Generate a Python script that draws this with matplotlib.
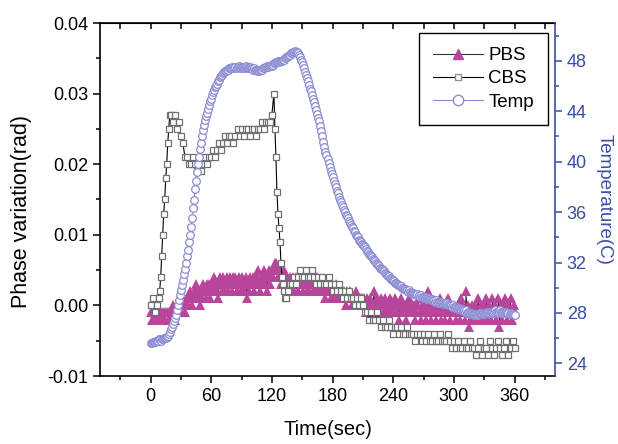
import matplotlib
matplotlib.use("Agg")
import matplotlib.pyplot as plt
import numpy as np
from matplotlib.lines import Line2D
from matplotlib.ticker import MultipleLocator, FormatStrFormatter

plt.rcParams['font.family'] = ['Liberation Sans', 'DejaVu Sans']
plt.rcParams['font.size'] = 13

# PBS phase variation, 1 s sampling, in mrad
time_pbs = np.arange(0, 361, 1)
pbs_mrad = [
    -1, -2, -1, -2, -1, -2, -2, -1, -2, -1,
    -2, -1, -2, -1, -2, -1, -1, -2, -1, -2,
    -1, -1, 0, -1, -2, -1, 0, -1, -1, 0,
    -1, 0, 1, 0, -1, 0, 1, 0, 1, 2,
    1, 0, 1, 2, 1, 3, 2, 1, 2, 0,
    2, 1, 3, 2, 2, 1, 3, 2, 3, 1,
    2, 3, 2, 4, 3, 2, 3, 1, 3, 4,
    3, 2, 4, 3, 2, 3, 4, 2, 3, 4,
    3, 2, 4, 3, 4, 2, 3, 4, 3, 2,
    4, 3, 2, 3, 4, 1, 3, 2, 4, 3,
    3, 4, 2, 3, 4, 3, 5, 3, 2, 4,
    3, 4, 5, 3, 4, 2, 4, 5, 3, 4,
    5, 4, 5, 6, 6, 5, 4, 5, 4, 3,
    4, 3, 5, 4, 3, 4, 3, 2, 4, 3,
    3, 4, 2, 3, 4, 3, 2, 3, 4, 3,
    3, 2, 3, 4, 3, 2, 3, 2, 3, 4,
    3, 2, 3, 2, 3, 4, 2, 3, 2, 3,
    2, 3, 2, 1, 3, 2, 2, 3, 1, 2,
    2, 1, 2, 3, 1, 2, 1, 2, 1, 2,
    1, 2, 1, 0, 2, 1, 1, 2, 1, 0,
    1, 0, 1, 2, 0, 1, 0, 1, 0, 1,
    0, 1, 0, -1, 1, 0, 0, 1, 0, -1,
    0, 2, 0, -1, 1, 0, -1, 0, 1, 0,
    -1, 0, 1, -1, 0, -1, 0, 1, -1, 0,
    0, -1, 1, 0, -1, 0, -2, 0, 1, -1,
    0, -1, 0, -2, -1, 0, 1, -1, 0, -1,
    -1, 0, -2, -1, 0, 1, -1, -2, 0, -1,
    0, -1, -2, -1, 2, 0, -1, -2, 0, -1,
    -1, 0, -2, -1, 0, -1, 1, -2, -1, 0,
    -1, -2, 0, -1, 1, -1, -2, 0, -1, -1,
    0, -1, -2, -1, 0, -1, -2, 1, -1, 0,
    -1, -2, 2, -1, 0, -3, -1, -2, 0, -1,
    -1, 0, -2, -1, 1, -1, -2, 0, -1, -2,
    0, -1, 1, -2, -1, 0, -1, -2, 1, -1,
    -1, 0, -2, -1, 1, -3, -1, 0, -2, -1,
    0, 1, -1, -2, 0, -1, 1, -2, -1, 0,
    -1,
]

# CBS phase variation, 2 s sampling with 1 s on the fast edges, in mrad
time_cbs = np.concatenate([np.arange(0, 8, 2), np.arange(8, 21, 1),
                           np.arange(22, 122, 2), np.arange(122, 134, 1),
                           np.arange(134, 362, 2)])
cbs_mrad = [
    0, 1, -1, 0,
    1, 2, 4, 7, 10, 13, 15, 18, 20, 23, 25, 27, 27,
    26, 27, 25, 26, 24, 23, 21, 21, 20, 20,
    21, 20, 19, 20, 19, 20, 21, 20, 21, 21,
    22, 21, 22, 23, 22, 23, 24, 23, 24, 24,
    23, 24, 25, 24, 25, 24, 25, 25, 24, 25,
    25, 24, 25, 25, 26, 25, 26, 26, 26, 27,
    30, 25, 21, 16, 13, 11, 9, 6, 4, 3, 2, 1,
    1, 2, 3, 3, 4, 3, 4, 5, 4, 4,
    5, 4, 4, 5, 4, 3, 4, 3, 4, 3,
    3, 4, 3, 2, 3, 2, 3, 2, 1, 2,
    1, 2, 1, 1, 0, 1, 0, 1, 0, -1,
    -1, -2, -1, -2, -2, -1, -2, -3, -2, -3,
    -3, -2, -3, -4, -3, -3, -4, -3, -4, -4,
    -3, -4, -4, -4, -5, -4, -4, -5, -4, -5,
    -4, -5, -5, -4, -5, -5, -4, -5, -5, -5,
    -4, -5, -6, -5, -6, -5, -6, -6, -5, -6,
    -6, -5, -6, -6, -7, -6, -5, -7, -6, -6,
    -7, -5, -6, -7, -6, -5, -6, -7, -6, -5,
    -7, -6, -5, -6,
]

# Temperature (C), 1 s sampling
time_temp = np.arange(0, 361, 1)
temp_c = [
    25.6, 25.6, 25.7, 25.7, 25.7, 25.8, 25.8, 25.8, 25.9, 25.9,
    25.8, 25.9, 25.9, 26.0, 26.0, 26.0, 26.1, 26.2, 26.3, 26.5,
    26.7, 26.9, 27.1, 27.4, 27.6, 27.8, 28.2, 28.6, 29.0, 29.4,
    29.8, 30.2, 30.6, 31.1, 31.5, 32.0, 32.5, 33.0, 33.6, 34.2,
    34.8, 35.5, 36.3, 37.0, 37.8, 38.5, 39.2, 39.8, 40.4, 41.0,
    41.5, 42.0, 42.5, 42.9, 43.3, 43.6, 43.9, 44.2, 44.5, 44.8,
    45.0, 45.3, 45.5, 45.7, 45.9, 46.0, 46.2, 46.4, 46.5, 46.7,
    46.8, 46.9, 47.0, 47.1, 47.2, 47.2, 47.3, 47.3, 47.4, 47.4,
    47.4, 47.5, 47.4, 47.5, 47.5, 47.4, 47.5, 47.6, 47.5, 47.4,
    47.5, 47.5, 47.4, 47.5, 47.6, 47.5, 47.4, 47.4, 47.5, 47.4,
    47.4, 47.3, 47.4, 47.3, 47.3, 47.2, 47.3, 47.2, 47.3, 47.3,
    47.3, 47.4, 47.4, 47.5, 47.5, 47.6, 47.5, 47.6, 47.6, 47.7,
    47.6, 47.7, 47.8, 47.8, 47.9, 47.9, 48.0, 47.9, 48.0, 48.0,
    48.0, 48.1, 48.1, 48.2, 48.3, 48.3, 48.4, 48.5, 48.5, 48.6,
    48.6, 48.7, 48.7, 48.8, 48.7, 48.7, 48.6, 48.5, 48.3, 48.1,
    47.9, 47.7, 47.4, 47.1, 46.9, 46.6, 46.4, 46.1, 45.8, 45.6,
    45.3, 45.0, 44.7, 44.4, 44.1, 43.8, 43.5, 43.2, 42.8, 42.4,
    42.0, 41.6, 41.2, 40.8, 40.5, 40.2, 39.9, 39.6, 39.3, 39.0,
    38.8, 38.5, 38.2, 38.0, 37.7, 37.5, 37.2, 37.0, 36.8, 36.6,
    36.4, 36.2, 36.0, 35.8, 35.7, 35.5, 35.3, 35.1, 35.0, 34.8,
    34.7, 34.5, 34.4, 34.2, 34.1, 34.0, 33.8, 33.7, 33.6, 33.5,
    33.4, 33.3, 33.2, 33.1, 32.9, 32.8, 32.7, 32.6, 32.5, 32.4,
    32.3, 32.2, 32.1, 32.0, 31.9, 31.8, 31.7, 31.6, 31.5, 31.5,
    31.4, 31.3, 31.2, 31.1, 31.0, 30.9, 30.9, 30.8, 30.7, 30.6,
    30.6, 30.5, 30.4, 30.4, 30.3, 30.2, 30.2, 30.1, 30.1, 30.0,
    30.0, 29.9, 29.9, 29.8, 29.8, 29.7, 29.8, 29.7, 29.6, 29.6,
    29.6, 29.5, 29.5, 29.4, 29.5, 29.4, 29.3, 29.4, 29.3, 29.2,
    29.3, 29.2, 29.3, 29.2, 29.1, 29.2, 29.1, 29.0, 29.1, 29.0,
    29.0, 28.9, 29.0, 28.9, 28.8, 28.9, 28.8, 28.9, 28.8, 28.7,
    28.8, 28.7, 28.7, 28.8, 28.6, 28.7, 28.6, 28.6, 28.5, 28.6,
    28.5, 28.4, 28.5, 28.4, 28.3, 28.4, 28.3, 28.2, 28.3, 28.2,
    28.2, 28.1, 28.2, 28.0, 28.1, 28.0, 27.9, 28.0, 27.9, 27.9,
    27.8, 27.9, 27.8, 27.9, 27.8, 27.9, 28.0, 27.9, 27.9, 28.0,
    27.9, 28.0, 28.0, 28.1, 28.0, 28.1, 28.0, 28.1, 28.1, 28.0,
    28.1, 28.2, 28.1, 28.1, 28.0, 28.1, 28.2, 28.1, 28.0, 28.1,
    28.1, 28.0, 28.1, 28.0, 28.0, 27.9, 28.0, 27.9, 27.9, 27.8,
    27.8,
]

magenta = "#b8449c"
lavender = "#8a8cd2"
blue = "#3b4ea6"

fig = plt.figure(figsize=(6.18, 4.44), dpi=100)
ax = fig.add_axes([100 / 618, 1 - 376 / 444, 455 / 618, 353 / 444])

ax.plot(time_pbs, np.array(pbs_mrad) / 1000, "-", color="#3a2a3a", lw=0.7,
        marker="^", ms=7, mfc=magenta, mec=magenta, mew=0, zorder=2)
ax.plot(time_cbs, np.array(cbs_mrad) / 1000, "-", color="k", lw=0.8,
        marker="s", ms=5, mfc="white", mec="#707070", mew=0.9, zorder=3)

ax.set_xlim(-50, 400)
ax.set_ylim(-0.01, 0.04)
ax.xaxis.set_major_locator(MultipleLocator(60))
ax.xaxis.set_minor_locator(MultipleLocator(30))
ax.yaxis.set_major_locator(MultipleLocator(0.01))
ax.yaxis.set_minor_locator(MultipleLocator(0.005))
ax.yaxis.set_major_formatter(FormatStrFormatter("%.2f"))
ax.tick_params(which="both", direction="out", width=1.1, right=False, top=False)
ax.tick_params(which="major", length=5)
ax.tick_params(which="minor", length=3)
for s in ["left", "bottom", "top"]:
    ax.spines[s].set_linewidth(1.2)
ax.spines["right"].set_visible(False)
ax.set_xlabel("Time(sec)", fontsize=14.5, labelpad=11)
ax.set_ylabel("Phase variation(rad)", fontsize=15.5)
ax.yaxis.set_label_coords(-0.15, 0.465)

# inward ticks along the top edge
top = ax.secondary_xaxis("top")
top.xaxis.set_major_locator(MultipleLocator(30))
top.tick_params(direction="in", length=4, width=1.1, labeltop=False)

ax2 = ax.twinx()
ax2.plot(time_temp, temp_c, "-", color=lavender, lw=0.8,
         marker="o", ms=5.5, mfc="white", mec=lavender, mew=0.9, zorder=4)
ax2.set_ylim(23, 51)
ax2.yaxis.set_major_locator(MultipleLocator(4))
ax2.yaxis.set_minor_locator(MultipleLocator(2))
ax2.tick_params(which="both", direction="out", colors=blue, width=1.1)
ax2.tick_params(which="major", length=5)
ax2.tick_params(which="minor", length=3)
ax2.spines["right"].set_color(blue)
ax2.spines["right"].set_linewidth(1.2)
for s in ["left", "top", "bottom"]:
    ax2.spines[s].set_visible(False)
ax2.set_ylabel("Temperature(C)", color=blue, fontsize=13.5, rotation=270,
               va="bottom", labelpad=6)

handles = [
    Line2D([], [], color="#4a2a4a", lw=0.8, marker="^", ms=6.5, mfc=magenta, mec=magenta),
    Line2D([], [], color="k", lw=0.8, marker="s", ms=4.5, mfc="white", mec="#909090"),
    Line2D([], [], color=lavender, lw=0.8, marker="o", ms=7.5, mfc="white", mec=lavender),
]
leg = ax2.legend(handles, ["PBS", "CBS", "Temp"], loc="upper right",
                 bbox_to_anchor=(0.985, 0.972), borderaxespad=0, fancybox=False,
                 edgecolor="k", framealpha=1, fontsize=13.5, handlelength=2.67,
                 labelspacing=0.33, handletextpad=0.27, borderpad=0.75)
leg.get_frame().set_linewidth(1.0)

fig.savefig("out.png", dpi=100)
